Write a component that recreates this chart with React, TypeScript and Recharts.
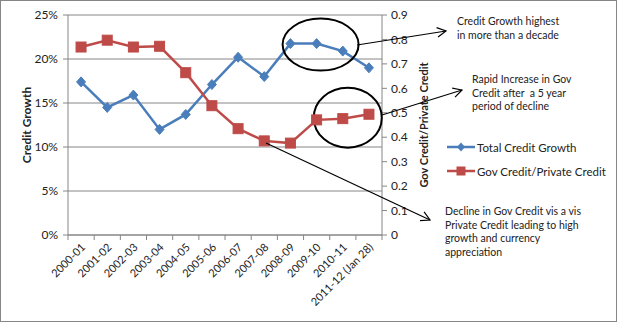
import { LineChart, Line, XAxis, YAxis, CartesianGrid, Legend, ReferenceDot } from 'recharts';

const categories = [
  '2000-01', '2001-02', '2002-03', '2003-04', '2004-05', '2005-06',
  '2006-07', '2007-08', '2008-09', '2009-10', '2010-11', '2011-12 (Jan 28)',
];
const creditGrowth = [0.174, 0.145, 0.159, 0.12, 0.137, 0.171, 0.202, 0.18, 0.2175, 0.2175, 0.209, 0.19];
const govPrivateRatio = [0.769, 0.797, 0.769, 0.772, 0.664, 0.529, 0.435, 0.385, 0.376, 0.471, 0.476, 0.494];
const leftTicks = [0, 0.05, 0.1, 0.15, 0.2, 0.25];
const rightTicks = [0, 0.1, 0.2, 0.3, 0.4, 0.5, 0.6, 0.7, 0.8, 0.9];

const seriesNames = { growth: 'Total Credit Growth', ratio: 'Gov Credit/Private Credit' };

const data = categories.map((c, i) => ({
  period: c,
  growth: creditGrowth[i],
  ratio: govPrivateRatio[i],
}));

const BLUE = '#4A7EBB';
const RED = '#BE4B48';
const AXIS = '#868686';
const FONT = 'Lato, "Noto Sans", sans-serif';
const HALF_STEP = 13.05;

const Diamond = ({ cx, cy }: any) =>
  cx == null ? null : (
    <polygon
      points={`${cx},${cy - 5} ${cx + 4.5},${cy} ${cx},${cy + 5} ${cx - 4.5},${cy}`}
      fill={BLUE}
      stroke={BLUE}
    />
  );

const Square = ({ cx, cy }: any) =>
  cx == null ? null : <rect x={cx - 5} y={cy - 5} width={10} height={10} fill={RED} stroke={RED} />;

const XTick = ({ x, y, payload, index }: any) => (
  <g>
    <line x1={x - HALF_STEP} y1={y} x2={x - HALF_STEP} y2={y + 5} stroke={AXIS} />
    {index === categories.length - 1 && (
      <line x1={x + HALF_STEP} y1={y} x2={x + HALF_STEP} y2={y + 5} stroke={AXIS} />
    )}
    <text
      x={x + 5}
      y={y + 13}
      transform={`rotate(-45, ${x + 5}, ${y + 13})`}
      textAnchor="end"
      fontSize={11}
      fontFamily={FONT}
      fill="#222"
    >
      {payload.value}
    </text>
  </g>
);

const Ellipse = ({ cx, cy, dx, dy, rx, ry }: any) =>
  cx == null ? null : (
    <ellipse cx={cx + dx} cy={cy + dy} rx={rx} ry={ry} fill="none" stroke="#000" strokeWidth={2} />
  );

const LegendContent = () => (
  <div style={{ fontFamily: FONT, fontSize: 11.5, color: '#222' }}>
    {[
      { name: seriesNames.growth, color: BLUE, shape: 'diamond' },
      { name: seriesNames.ratio, color: RED, shape: 'square' },
    ].map((item) => (
      <div key={item.name} style={{ display: 'flex', alignItems: 'center', height: 24 }}>
        <svg width={30} height={12}>
          <line x1={0} y1={6} x2={28} y2={6} stroke={item.color} strokeWidth={2.5} />
          {item.shape === 'diamond' ? (
            <polygon points="14,1.5 18,6 14,10.5 10,6" fill={item.color} />
          ) : (
            <rect x={9.5} y={1.5} width={9} height={9} fill={item.color} />
          )}
        </svg>
        <span>{item.name}</span>
      </div>
    ))}
  </div>
);

const notes = [
  { x: 457, y: 25, lines: ['Credit Growth highest', 'in more than a decade'] },
  { x: 472, y: 83, lines: ['Rapid Increase in Gov', 'Credit after  a 5 year', 'period of decline'] },
  {
    x: 445,
    y: 215,
    lines: ['Decline in Gov Credit vis a vis', 'Private Credit leading to high', 'growth and currency', 'appreciation'],
  },
];

const arrows = [
  [357, 45, 446, 31],
  [382, 115, 462, 90],
  [266, 143, 430, 220],
];

const axisTitle = (text: string, offsetX: number, size: number) => ({ viewBox }: any) => {
  const x = viewBox.x + offsetX;
  const y = viewBox.y + viewBox.height / 2;
  return (
    <text
      x={x}
      y={y}
      transform={`rotate(-90, ${x}, ${y})`}
      textAnchor="middle"
      dominantBaseline="central"
      fontSize={size}
      fontWeight="bold"
      fontFamily={FONT}
      fill="#222"
    >
      {text}
    </text>
  );
};

export default function App() {
  return (
    <div
      style={{
        position: 'absolute',
        left: 0,
        top: 0,
        width: 617,
        height: 322,
        border: `1px solid ${AXIS}`,
        boxSizing: 'border-box',
        background: '#fff',
      }}
    >
      <div style={{ position: 'absolute', left: -1, top: -1 }}>
        <LineChart width={617} height={322} data={data} margin={{ top: 15, right: 0, bottom: 0, left: 0 }}>
          <CartesianGrid vertical={false} stroke={AXIS} yAxisId="left" />
          <XAxis
            dataKey="period"
            height={87}
            interval={0}
            padding={{ left: HALF_STEP, right: HALF_STEP }}
            stroke={AXIS}
            tickLine={false}
            tickSize={0}
            tickMargin={0}
            tick={<XTick />}
          />
          <YAxis
            yAxisId="left"
            width={68}
            domain={[0, 0.25]}
            ticks={leftTicks}
            tickFormatter={(v: number) => `${Math.round(v * 100)}%`}
            stroke={AXIS}
            tickSize={5}
            tickMargin={5}
            tick={{ fill: '#222', fontSize: 12, fontFamily: FONT }}
            label={{ content: axisTitle('Credit Growth', 26, 12) }}
          />
          <YAxis
            yAxisId="right"
            orientation="right"
            width={235}
            domain={[0, 0.9]}
            ticks={rightTicks}
            tickFormatter={(v: number) => (v === 0 ? '0' : v.toFixed(1))}
            stroke={AXIS}
            tickSize={5}
            tickMargin={4}
            tick={{ fill: '#222', fontSize: 12, fontFamily: FONT }}
            label={{ content: axisTitle('Gov Credit/Private Credit', 41, 11) }}
          />
          <Line
            yAxisId="left"
            dataKey="growth"
            name={seriesNames.growth}
            stroke={BLUE}
            strokeWidth={2.5}
            dot={<Diamond />}
            isAnimationActive={false}
          />
          <Line
            yAxisId="right"
            dataKey="ratio"
            name={seriesNames.ratio}
            stroke={RED}
            strokeWidth={2.5}
            dot={<Square />}
            isAnimationActive={false}
          />
          <ReferenceDot
            yAxisId="left"
            x="2009-10"
            y={creditGrowth[9]}
            shape={(p: any) => <Ellipse {...p} dx={4} dy={1} rx={38} ry={26} />}
          />
          <ReferenceDot
            yAxisId="right"
            x="2010-11"
            y={govPrivateRatio[10]}
            shape={(p: any) => <Ellipse {...p} dx={5} dy={-1} rx={34} ry={30} />}
          />
          <Legend
            layout="vertical"
            align="center"
            verticalAlign="middle"
            content={<LegendContent />}
            wrapperStyle={{ left: 447, top: 135, width: 170 }}
          />
        </LineChart>
      </div>
      <svg
        width={617}
        height={322}
        style={{ position: 'absolute', left: -1, top: -1, pointerEvents: 'none' }}
      >
        {arrows.map(([x1, y1, x2, y2], i) => {
          const a = Math.atan2(y2 - y1, x2 - x1);
          const len = 10;
          const spread = 0.5;
          return (
            <g key={i} stroke="#000" strokeWidth={1.2} fill="none">
              <line x1={x1} y1={y1} x2={x2} y2={y2} />
              <polyline
                points={`${x2 - len * Math.cos(a - spread)},${y2 - len * Math.sin(a - spread)} ${x2},${y2} ${
                  x2 - len * Math.cos(a + spread)
                },${y2 - len * Math.sin(a + spread)}`}
              />
            </g>
          );
        })}
        {notes.map((n) => (
          <text key={n.lines[0]} x={n.x} y={n.y} fontSize={10.5} fontFamily={FONT} fill="#222">
            {n.lines.map((l, i) => (
              <tspan key={i} x={n.x} dy={i === 0 ? 0 : 13.5} style={{ whiteSpace: 'pre' }}>
                {l}
              </tspan>
            ))}
          </text>
        ))}
      </svg>
    </div>
  );
}
